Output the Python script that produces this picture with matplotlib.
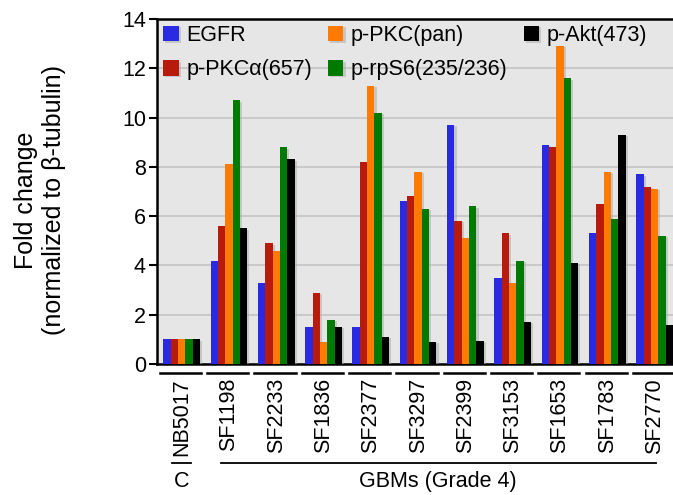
import matplotlib
matplotlib.use("Agg")
import matplotlib.pyplot as plt
import matplotlib.patheffects as pe
import numpy as np

plt.rcParams['font.family'] = ['Liberation Sans', 'DejaVu Sans']

categories = ["NB5017", "SF1198", "SF2233", "SF1836", "SF2377", "SF3297",
              "SF2399", "SF3153", "SF1653", "SF1783", "SF2770"]
series_names = ["EGFR", "p-PKCα(657)", "p-PKC(pan)", "p-rpS6(235/236)", "p-Akt(473)"]
egfr  = [1.0, 4.2, 3.3, 1.5, 1.5, 6.6, 9.7, 3.5, 8.9, 5.3, 7.7]
pkca  = [1.0, 5.6, 4.9, 2.9, 8.2, 6.8, 5.8, 5.3, 8.8, 6.5, 7.2]
pkcp  = [1.0, 8.1, 4.6, 0.9, 11.3, 7.8, 5.1, 3.3, 12.9, 7.8, 7.1]
rps6  = [1.0, 10.7, 8.8, 1.8, 10.2, 6.3, 6.4, 4.2, 11.6, 5.9, 5.2]
akt   = [1.0, 5.5, 8.3, 1.5, 1.1, 0.9, 0.95, 1.7, 4.1, 9.3, 1.6]
series = [egfr, pkca, pkcp, rps6, akt]
colors = ["#2a2ae2", "#b81a0c", "#ff7a00", "#007a00", "#000000"]
yticks = [0, 2, 4, 6, 8, 10, 12, 14]

fig = plt.figure(figsize=(6.73, 4.95), dpi=100)
ax = fig.add_axes([157/673, 131/495, 516/673, 345/495])
ax.set_facecolor("#e6e6e6")

x = np.arange(len(categories))
w = 0.155
handles = []
for k, (vals, col, name) in enumerate(zip(series, colors, series_names)):
    b = ax.bar(x + (k - 2) * w, vals, width=w, color=col, label=name, zorder=3,
               linewidth=0)
    for p in b:
        p.set_path_effects([pe.SimplePatchShadow(offset=(1.5, -1.0), shadow_rgbFace="#a8a8a8", alpha=0.5),
                            pe.Normal()])
    handles.append(b)

ax.set_xlim(-0.52, 10.3875)
ax.set_ylim(0, 14)
ax.set_yticks(yticks)
ax.yaxis.grid(True, color="#c4c4c4", linewidth=1.2, zorder=0)
ax.set_axisbelow(True)
ax.tick_params(axis='y', direction='out', length=6, width=1.5, labelsize=15.5, pad=2)
ax.tick_params(axis='x', length=0, labelsize=15.5, pad=10)
ax.set_xticks(x)
ax.set_xticklabels(categories, rotation=90, va='top', ha='center')

for s in ['left', 'top', 'bottom']:
    ax.spines[s].set_linewidth(1.8)
    ax.spines[s].set_color('black')
ax.spines['right'].set_visible(False)

fig.text(40/673, 1 - 200/495, "Fold change\n(normalized to β-tubulin)", fontsize=18,
         rotation=90, ha='center', va='center', multialignment='center', linespacing=1.2)

# group underlines
trans = ax.get_xaxis_transform()
for xi in x:
    ax.plot([xi - 0.46, xi + 0.41], [-0.026, -0.026], color='black', lw=1.8,
            transform=trans, clip_on=False)

# bracket lines and group labels
ax.plot([-0.2, 0.2], [-0.287, -0.287], color='black', lw=1.3, transform=trans, clip_on=False)
ax.plot([0.83, 10.02], [-0.287, -0.287], color='black', lw=1.3, transform=trans, clip_on=False)
ax.text(0.0, -0.34, "C", transform=trans, ha='center', va='center', fontsize=15.5)
ax.text(5.42, -0.34, "GBMs (Grade 4)", transform=trans, ha='center', va='center', fontsize=15.5)

ax.legend(handles=handles, ncol=3, loc='upper left', bbox_to_anchor=(0.0, 1.0),
          frameon=False, fontsize=15.5, handlelength=0.72, handleheight=0.72,
          handletextpad=0.35, columnspacing=0.75, labelspacing=0.62,
          borderaxespad=0.08, borderpad=0.2)

fig.savefig("out.png", dpi=100)
